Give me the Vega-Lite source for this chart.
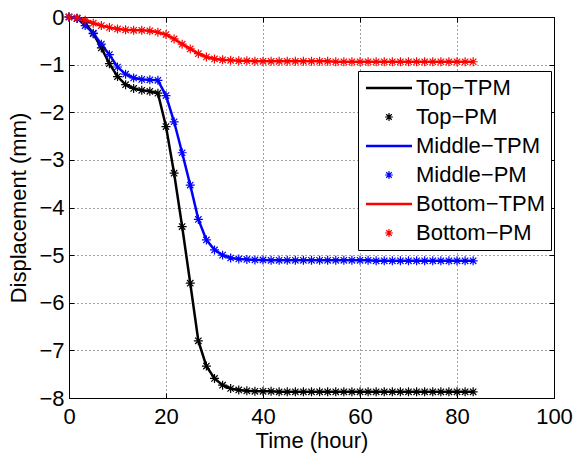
{
  "$schema": "https://vega.github.io/schema/vega-lite/v6.json",
  "width": 485,
  "height": 381,
  "autosize": {"type": "none"},
  "padding": {"left": 69, "top": 17, "right": 20, "bottom": 56},
  "background": "white",
  "config": {
    "font": "Liberation Sans",
    "view": {"stroke": "black", "strokeWidth": 1},
    "axis": {
      "labelFontSize": 22, "titleFontSize": 22, "titleFontWeight": "normal",
      "labelColor": "black", "titleColor": "black", "domainColor": "black",
      "tickColor": "black", "tickSize": -5, "gridColor": "#444", "gridDash": [1, 3],
      "gridOpacity": 1, "labelFlush": false, "labelOverlap": false
    }
  },
  "data": {"values": [
    {"t":0,"top_tpm":0,"top_pm":0,"mid_tpm":0,"mid_pm":0,"bot_tpm":0,"bot_pm":0},
    {"t":1.67,"top_tpm":-0.03,"top_pm":-0.03,"mid_tpm":-0.03,"mid_pm":-0.03,"bot_tpm":-0.02,"bot_pm":-0.02},
    {"t":3.33,"top_tpm":-0.12,"top_pm":-0.12,"mid_tpm":-0.18,"mid_pm":-0.18,"bot_tpm":-0.07,"bot_pm":-0.07},
    {"t":5,"top_tpm":-0.35,"top_pm":-0.35,"mid_tpm":-0.34,"mid_pm":-0.34,"bot_tpm":-0.13,"bot_pm":-0.13},
    {"t":6.67,"top_tpm":-0.65,"top_pm":-0.65,"mid_tpm":-0.57,"mid_pm":-0.57,"bot_tpm":-0.18,"bot_pm":-0.18},
    {"t":8.33,"top_tpm":-0.98,"top_pm":-0.98,"mid_tpm":-0.79,"mid_pm":-0.79,"bot_tpm":-0.22,"bot_pm":-0.22},
    {"t":10,"top_tpm":-1.25,"top_pm":-1.25,"mid_tpm":-1.05,"mid_pm":-1.05,"bot_tpm":-0.25,"bot_pm":-0.25},
    {"t":11.67,"top_tpm":-1.42,"top_pm":-1.42,"mid_tpm":-1.2,"mid_pm":-1.2,"bot_tpm":-0.27,"bot_pm":-0.27},
    {"t":13.33,"top_tpm":-1.5,"top_pm":-1.5,"mid_tpm":-1.28,"mid_pm":-1.28,"bot_tpm":-0.28,"bot_pm":-0.28},
    {"t":15,"top_tpm":-1.54,"top_pm":-1.54,"mid_tpm":-1.31,"mid_pm":-1.31,"bot_tpm":-0.28,"bot_pm":-0.28},
    {"t":16.67,"top_tpm":-1.56,"top_pm":-1.56,"mid_tpm":-1.32,"mid_pm":-1.32,"bot_tpm":-0.29,"bot_pm":-0.29},
    {"t":18.33,"top_tpm":-1.6,"top_pm":-1.6,"mid_tpm":-1.33,"mid_pm":-1.33,"bot_tpm":-0.32,"bot_pm":-0.32},
    {"t":20,"top_tpm":-2.3,"top_pm":-2.3,"mid_tpm":-1.65,"mid_pm":-1.65,"bot_tpm":-0.37,"bot_pm":-0.37},
    {"t":21.67,"top_tpm":-3.28,"top_pm":-3.28,"mid_tpm":-2.2,"mid_pm":-2.2,"bot_tpm":-0.46,"bot_pm":-0.46},
    {"t":23.33,"top_tpm":-4.4,"top_pm":-4.4,"mid_tpm":-2.85,"mid_pm":-2.85,"bot_tpm":-0.57,"bot_pm":-0.57},
    {"t":25,"top_tpm":-5.59,"top_pm":-5.59,"mid_tpm":-3.53,"mid_pm":-3.53,"bot_tpm":-0.67,"bot_pm":-0.67},
    {"t":26.67,"top_tpm":-6.8,"top_pm":-6.8,"mid_tpm":-4.25,"mid_pm":-4.25,"bot_tpm":-0.77,"bot_pm":-0.77},
    {"t":28.33,"top_tpm":-7.33,"top_pm":-7.33,"mid_tpm":-4.68,"mid_pm":-4.68,"bot_tpm":-0.84,"bot_pm":-0.84},
    {"t":30,"top_tpm":-7.59,"top_pm":-7.59,"mid_tpm":-4.89,"mid_pm":-4.89,"bot_tpm":-0.88,"bot_pm":-0.88},
    {"t":31.67,"top_tpm":-7.73,"top_pm":-7.73,"mid_tpm":-5.0,"mid_pm":-5.0,"bot_tpm":-0.9,"bot_pm":-0.9},
    {"t":33.33,"top_tpm":-7.8,"top_pm":-7.8,"mid_tpm":-5.06,"mid_pm":-5.06,"bot_tpm":-0.91,"bot_pm":-0.91},
    {"t":35,"top_tpm":-7.83,"top_pm":-7.83,"mid_tpm":-5.08,"mid_pm":-5.08,"bot_tpm":-0.92,"bot_pm":-0.92},
    {"t":36.67,"top_tpm":-7.85,"top_pm":-7.85,"mid_tpm":-5.09,"mid_pm":-5.09,"bot_tpm":-0.92,"bot_pm":-0.92},
    {"t":38.33,"top_tpm":-7.86,"top_pm":-7.86,"mid_tpm":-5.1,"mid_pm":-5.1,"bot_tpm":-0.93,"bot_pm":-0.93},
    {"t":40,"top_tpm":-7.86,"top_pm":-7.86,"mid_tpm":-5.1,"mid_pm":-5.1,"bot_tpm":-0.93,"bot_pm":-0.93},
    {"t":41.67,"top_tpm":-7.86,"top_pm":-7.86,"mid_tpm":-5.11,"mid_pm":-5.11,"bot_tpm":-0.93,"bot_pm":-0.93},
    {"t":43.33,"top_tpm":-7.87,"top_pm":-7.87,"mid_tpm":-5.11,"mid_pm":-5.11,"bot_tpm":-0.93,"bot_pm":-0.93},
    {"t":45,"top_tpm":-7.87,"top_pm":-7.87,"mid_tpm":-5.11,"mid_pm":-5.11,"bot_tpm":-0.93,"bot_pm":-0.93},
    {"t":46.67,"top_tpm":-7.87,"top_pm":-7.87,"mid_tpm":-5.11,"mid_pm":-5.11,"bot_tpm":-0.93,"bot_pm":-0.93},
    {"t":48.33,"top_tpm":-7.87,"top_pm":-7.87,"mid_tpm":-5.11,"mid_pm":-5.11,"bot_tpm":-0.93,"bot_pm":-0.93},
    {"t":50,"top_tpm":-7.87,"top_pm":-7.87,"mid_tpm":-5.11,"mid_pm":-5.11,"bot_tpm":-0.93,"bot_pm":-0.93},
    {"t":51.67,"top_tpm":-7.87,"top_pm":-7.87,"mid_tpm":-5.11,"mid_pm":-5.11,"bot_tpm":-0.93,"bot_pm":-0.93},
    {"t":53.33,"top_tpm":-7.87,"top_pm":-7.87,"mid_tpm":-5.11,"mid_pm":-5.11,"bot_tpm":-0.93,"bot_pm":-0.93},
    {"t":55,"top_tpm":-7.87,"top_pm":-7.87,"mid_tpm":-5.11,"mid_pm":-5.11,"bot_tpm":-0.94,"bot_pm":-0.94},
    {"t":56.67,"top_tpm":-7.87,"top_pm":-7.87,"mid_tpm":-5.11,"mid_pm":-5.11,"bot_tpm":-0.94,"bot_pm":-0.94},
    {"t":58.33,"top_tpm":-7.87,"top_pm":-7.87,"mid_tpm":-5.11,"mid_pm":-5.11,"bot_tpm":-0.94,"bot_pm":-0.94},
    {"t":60,"top_tpm":-7.87,"top_pm":-7.87,"mid_tpm":-5.11,"mid_pm":-5.11,"bot_tpm":-0.94,"bot_pm":-0.94},
    {"t":61.67,"top_tpm":-7.87,"top_pm":-7.87,"mid_tpm":-5.11,"mid_pm":-5.11,"bot_tpm":-0.94,"bot_pm":-0.94},
    {"t":63.33,"top_tpm":-7.87,"top_pm":-7.87,"mid_tpm":-5.12,"mid_pm":-5.12,"bot_tpm":-0.94,"bot_pm":-0.94},
    {"t":65,"top_tpm":-7.87,"top_pm":-7.87,"mid_tpm":-5.12,"mid_pm":-5.12,"bot_tpm":-0.94,"bot_pm":-0.94},
    {"t":66.67,"top_tpm":-7.87,"top_pm":-7.87,"mid_tpm":-5.12,"mid_pm":-5.12,"bot_tpm":-0.94,"bot_pm":-0.94},
    {"t":68.33,"top_tpm":-7.87,"top_pm":-7.87,"mid_tpm":-5.12,"mid_pm":-5.12,"bot_tpm":-0.94,"bot_pm":-0.94},
    {"t":70,"top_tpm":-7.87,"top_pm":-7.87,"mid_tpm":-5.12,"mid_pm":-5.12,"bot_tpm":-0.94,"bot_pm":-0.94},
    {"t":71.67,"top_tpm":-7.87,"top_pm":-7.87,"mid_tpm":-5.12,"mid_pm":-5.12,"bot_tpm":-0.94,"bot_pm":-0.94},
    {"t":73.33,"top_tpm":-7.87,"top_pm":-7.87,"mid_tpm":-5.12,"mid_pm":-5.12,"bot_tpm":-0.94,"bot_pm":-0.94},
    {"t":75,"top_tpm":-7.87,"top_pm":-7.87,"mid_tpm":-5.12,"mid_pm":-5.12,"bot_tpm":-0.94,"bot_pm":-0.94},
    {"t":76.67,"top_tpm":-7.87,"top_pm":-7.87,"mid_tpm":-5.12,"mid_pm":-5.12,"bot_tpm":-0.94,"bot_pm":-0.94},
    {"t":78.33,"top_tpm":-7.87,"top_pm":-7.87,"mid_tpm":-5.12,"mid_pm":-5.12,"bot_tpm":-0.94,"bot_pm":-0.94},
    {"t":80,"top_tpm":-7.87,"top_pm":-7.87,"mid_tpm":-5.12,"mid_pm":-5.12,"bot_tpm":-0.94,"bot_pm":-0.94},
    {"t":81.67,"top_tpm":-7.87,"top_pm":-7.87,"mid_tpm":-5.12,"mid_pm":-5.12,"bot_tpm":-0.94,"bot_pm":-0.94},
    {"t":83.33,"top_tpm":-7.87,"top_pm":-7.87,"mid_tpm":-5.12,"mid_pm":-5.12,"bot_tpm":-0.94,"bot_pm":-0.94}
  ]},
  "resolve": {"axis": {"x": "independent", "y": "independent"}},
  "layer": [
    {
      "transform": [{"fold": ["top_tpm", "mid_tpm", "bot_tpm"], "as": ["series", "v"]}],
      "mark": {"type": "line", "strokeWidth": 2.5},
      "encoding": {
        "x": {"field": "t", "type": "quantitative", "scale": {"domain": [0, 100], "nice": false},
              "axis": {"orient": "top", "values": [0, 20, 40, 60, 80, 100], "labels": false, "grid": false, "title": null}},
        "y": {"field": "v", "type": "quantitative", "scale": {"domain": [-8, 0], "nice": false},
              "axis": {"orient": "right", "values": [0, -1, -2, -3, -4, -5, -6, -7, -8], "labels": false, "grid": false, "title": null}},
        "color": {"field": "series", "type": "nominal",
          "scale": {"domain": ["top_tpm", "top_pm", "mid_tpm", "mid_pm", "bot_tpm", "bot_pm"],
                    "range": ["#000000", "#000000", "#0000ff", "#0000ff", "#ff0000", "#ff0000"]},
          "legend": {"title": null, "orient": "none", "legendX": 289, "legendY": 54,
            "labelFontSize": 22, "labelColor": "black", "symbolSize": 2116, "labelOffset": 16,
            "symbolOffset": 14,
            "padding": 6, "strokeColor": "black", "fillColor": "white", "rowPadding": 7,
            "labelExpr": "{'top_tpm':'Top−TPM','top_pm':'Top−PM','mid_tpm':'Middle−TPM','mid_pm':'Middle−PM','bot_tpm':'Bottom−TPM','bot_pm':'Bottom−PM'}[datum.value]",
            "encode": {"symbols": {"update": {
              "stroke": {"scale": "color", "field": "value"},
              "fill": {"value": "transparent"},
              "strokeWidth": {"signal": "indexof(['top_tpm','mid_tpm','bot_tpm'], datum.value) >= 0 ? 2.5 : 1.2"}
            }}}
          }}
      }
    },
    {
      "transform": [{"fold": ["top_pm", "mid_pm", "bot_pm"], "as": ["series", "v"]}],
      "mark": {"type": "point", "filled": false, "strokeWidth": 1.2, "size": 2800, "opacity": 1},
      "encoding": {
        "x": {"field": "t", "type": "quantitative",
              "axis": {"orient": "bottom", "values": [0, 20, 40, 60, 80, 100], "title": "Time (hour)", "grid": true, "labelPadding": 13, "titlePadding": 3}},
        "y": {"field": "v", "type": "quantitative",
              "axis": {"orient": "left", "values": [0, -1, -2, -3, -4, -5, -6, -7, -8], "title": "Displacement (mm)", "grid": true, "labelPadding": 10, "titlePadding": 8}},
        "color": {"field": "series", "type": "nominal"},
        "shape": {"field": "series", "type": "nominal",
          "scale": {"domain": ["top_tpm", "top_pm", "mid_tpm", "mid_pm", "bot_tpm", "bot_pm"],
                    "range": ["stroke", "M-0.17,0L0.17,0M0,-0.17L0,0.17M-0.12,-0.12L0.12,0.12M-0.12,0.12L0.12,-0.12", "stroke", "M-0.17,0L0.17,0M0,-0.17L0,0.17M-0.12,-0.12L0.12,0.12M-0.12,0.12L0.12,-0.12", "stroke", "M-0.17,0L0.17,0M0,-0.17L0,0.17M-0.12,-0.12L0.12,0.12M-0.12,0.12L0.12,-0.12"]},
          "legend": {"title": null}}
      }
    }
  ]
}
